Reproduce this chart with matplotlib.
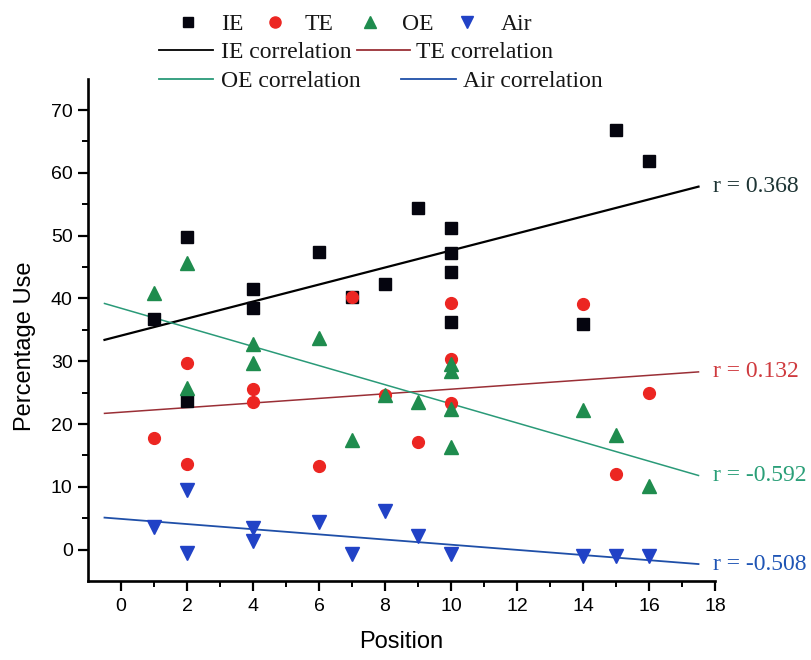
import matplotlib
matplotlib.use("Agg")
import matplotlib.pyplot as plt
from matplotlib.lines import Line2D
import numpy as np

# ---------------- data ----------------
ie_x = [1, 2, 2, 4, 4, 6, 7, 8, 9, 10, 10, 10, 10, 14, 15, 16]
ie_y = [36.7, 49.8, 23.7, 41.5, 38.5, 47.4, 40.3, 42.3, 54.4, 51.3, 47.2, 44.2, 36.3, 36.0, 66.9, 61.9]

te_x = [1, 2, 2, 4, 4, 6, 7, 8, 9, 10, 10, 10, 14, 15, 16]
te_y = [17.7, 29.7, 13.6, 25.5, 23.5, 13.3, 40.3, 24.6, 17.2, 39.2, 30.4, 23.3, 39.1, 12.0, 25.0]

oe_x = [1, 2, 2, 4, 4, 6, 7, 8, 9, 10, 10, 10, 10, 14, 15, 16]
oe_y = [40.9, 45.7, 25.8, 32.7, 29.7, 33.7, 17.5, 24.6, 23.5, 29.6, 28.5, 22.4, 16.3, 22.3, 18.2, 10.2]

air_x = [1, 2, 2, 4, 4, 6, 7, 8, 9, 10, 14, 15, 16]
air_y = [3.6, 9.5, -0.5, 3.5, 1.4, 4.4, -0.7, 6.2, 2.2, -0.7, -1.0, -1.0, -1.0]

# linear fits (intercept, slope) and fit domain
fit_names = ["IE", "TE", "OE", "Air"]
fit_intercept = [34.08, 21.88, 38.44, 4.89]
fit_slope = [1.356, 0.367, -1.522, -0.411]
fit_domain = [-0.5, 17.5]
r_values = ["0.368", "0.132", "-0.592", "-0.508"]

# ---------------- style ----------------
c_ie, c_te, c_oe, c_air = "#05050f", "#ec2622", "#1f8c4e", "#2142c6"
line_colors = ["#000000", "#9a2f36", "#2a9a78", "#1f4fa8"]
r_colors = ["#1d3434", "#cf3a3e", "#2a9f78", "#1f55b5"]
line_widths = [1.6, 1.1, 1.1, 1.3]

sans = ["Liberation Sans", "DejaVu Sans"]
serif = ["Liberation Serif", "DejaVu Serif"]

W, H = 811, 660
fig = plt.figure(figsize=(W / 100, H / 100), dpi=100)
L, R, B, T = 88, 715, 581, 78.7
ax = fig.add_axes([L / W, 1 - B / H, (R - L) / W, (B - T) / H])

# fit lines
xs = np.array(fit_domain)
for a, b, col, lw in zip(fit_intercept, fit_slope, line_colors, line_widths):
    ax.plot(xs, a + b * xs, color=col, lw=lw, zorder=2)

# scatter markers
ax.plot(ie_x, ie_y, ls="none", marker="s", ms=8, color=c_ie, zorder=3)
ax.plot(te_x, te_y, ls="none", marker="o", ms=8.5, color=c_te, zorder=4)
ax.plot(oe_x, oe_y, ls="none", marker="^", ms=9.5, color=c_oe, zorder=5)
ax.plot(air_x, air_y, ls="none", marker="v", ms=9.5, color=c_air, zorder=6)

# r labels at end of fit lines
for a, b, rv, col in zip(fit_intercept, fit_slope, r_values, r_colors):
    yend = a + b * fit_domain[1]
    ax.text(17.95, yend, f"r = {rv}", color=col, fontsize=17, family=serif,
            va="center", ha="left", clip_on=False)

ax.set_xlim(-1, 18)
ax.set_ylim(-5, 75)
ax.set_xticks(np.arange(0, 19, 2))
ax.set_xticks(np.arange(1, 18, 2), minor=True)
ax.set_yticks(np.arange(0, 71, 10))
ax.set_yticks(np.arange(5, 71, 10), minor=True)

for s in ["top", "right"]:
    ax.spines[s].set_visible(False)
for s in ["left", "bottom"]:
    ax.spines[s].set_linewidth(1.9)
ax.tick_params(which="major", direction="out", length=7, width=1.6, labelsize=14, pad=4)
ax.tick_params(which="minor", direction="out", length=4.5, width=1.4)
ax.tick_params(axis="x", which="major", pad=5)
for lab in ax.get_xticklabels() + ax.get_yticklabels():
    lab.set_family(sans)

ax.set_xlabel("Position", fontsize=17, family=sans)
ax.set_ylabel("Percentage Use", fontsize=17, family=sans)
ax.xaxis.set_label_coords(0.5, (B - 631) / (B - T))
ax.yaxis.set_label_coords((36 - L) / (R - L), (B - 346) / (B - T))

# ---------------- manual legend (figure pixel coords) ----------------
def fx(px):
    return px / W

def fy(py):
    return 1 - py / H

tcol = "#151515"
# row 1: markers
row1 = [(188, "s", 7.5, c_ie, 221, "IE"), (275, "o", 8, c_te, 305, "TE"),
        (370, "^", 8.5, c_oe, 402, "OE"), (467, "v", 8.5, c_air, 501, "Air")]
for mx, mk, ms, col, tx, lab in row1:
    fig.add_artist(Line2D([fx(mx)], [fy(22)], marker=mk, ms=ms, color=col, ls="none",
                          transform=fig.transFigure))
    fig.text(fx(tx), fy(30), lab, fontsize=17, family=serif, color=tcol, va="baseline")

# rows 2-3: lines
row23 = [(159, 213, 50, 221, 58, "IE correlation", line_colors[0]),
         (357, 410, 50, 416, 58, "TE correlation", line_colors[1]),
         (159, 213, 79, 221, 87, "OE correlation", line_colors[2]),
         (401, 456, 79, 463, 87, "Air correlation", line_colors[3])]
for x0, x1, ly, tx, ty, lab, col in row23:
    fig.add_artist(Line2D([fx(x0), fx(x1)], [fy(ly), fy(ly)], color=col, lw=1.3,
                          transform=fig.transFigure))
    fig.text(fx(tx), fy(ty), lab, fontsize=17, family=serif, color=tcol, va="baseline")

fig.savefig("out.png", dpi=100)
